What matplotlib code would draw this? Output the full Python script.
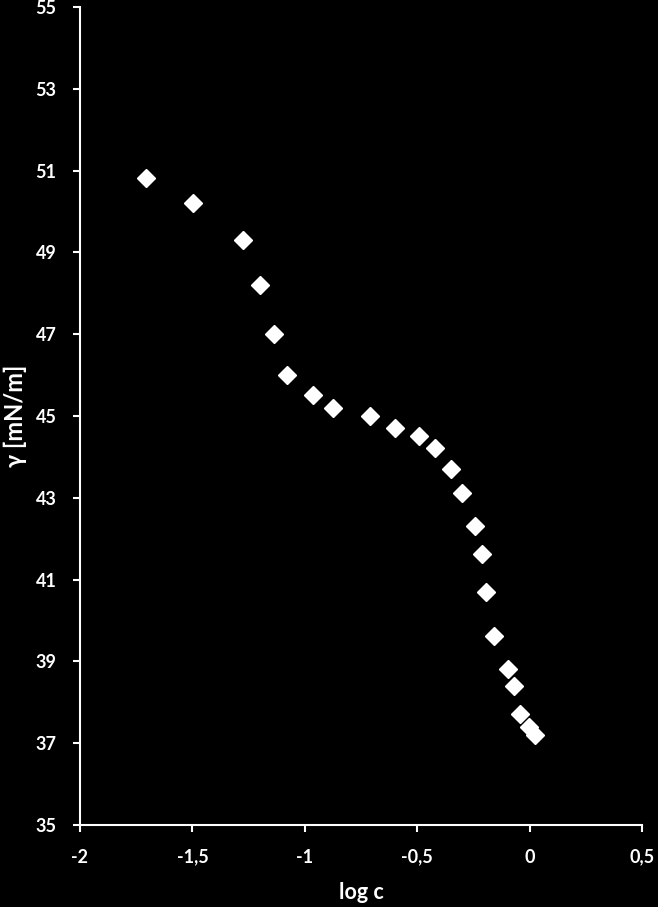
import matplotlib
matplotlib.use('Agg')
import matplotlib.pyplot as plt
from matplotlib.ticker import FuncFormatter

# log c vs surface tension
log_c = [-1.706, -1.497, -1.275, -1.199, -1.137, -1.079, -0.963, -0.875,
         -0.710, -0.599, -0.492, -0.421, -0.350, -0.301, -0.243, -0.212,
         -0.194, -0.158, -0.096, -0.069, -0.043, -0.002, 0.024]
gamma = [50.82, 50.21, 49.30, 48.20, 47.00, 46.00, 45.51, 45.20,
         45.00, 44.71, 44.51, 44.22, 43.70, 43.12, 42.31, 41.63,
         40.70, 39.62, 38.81, 38.40, 37.71, 37.40, 37.20]

x_ticks = [-2, -1.5, -1, -0.5, 0, 0.5]
y_ticks = [35, 37, 39, 41, 43, 45, 47, 49, 51, 53, 55]

plt.rcParams['font.family'] = ['Lato', 'DejaVu Sans']
plt.rcParams['font.weight'] = 'bold'

fig = plt.figure(figsize=(6.58, 9.07), dpi=100, facecolor='black')
ax = fig.add_axes([80 / 658, 82 / 907, 562 / 658, 818 / 907])
ax.set_facecolor('black')

ax.plot(log_c, gamma, linestyle='none', marker='D', markersize=9.5,
        color='white', markeredgecolor='white')

ax.set_xlim(-2, 0.5)
ax.set_ylim(35, 55)
ax.set_xticks(x_ticks)
ax.set_yticks(y_ticks)

comma = FuncFormatter(lambda v, p: ('%g' % v).replace('.', ','))
ax.xaxis.set_major_formatter(comma)
ax.yaxis.set_major_formatter(comma)

for s in ['top', 'right']:
    ax.spines[s].set_visible(False)
for s in ['left', 'bottom']:
    ax.spines[s].set_color('white')
    ax.spines[s].set_linewidth(1.5)

ax.tick_params(colors='white', labelsize=13, length=5, width=1.5, direction='out')
ax.tick_params(axis='x', pad=12)
ax.tick_params(axis='y', pad=12)

ax.set_xlabel('log c', color='white', fontsize=15.5, fontweight='bold', labelpad=12)
ax.set_ylabel('γ [mN/m]', color='white', fontsize=17, fontweight='bold', labelpad=6)

fig.savefig('out.png', dpi=100, facecolor='black')
